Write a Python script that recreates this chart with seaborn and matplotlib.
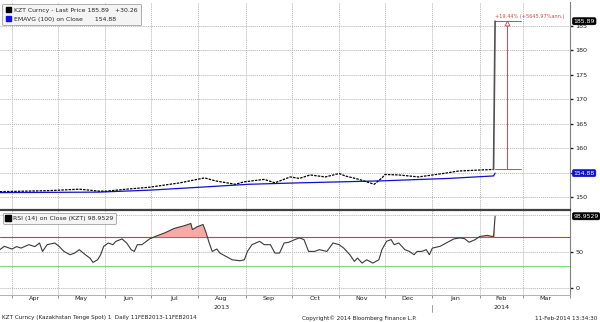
import numpy as np
import pandas as pd
import matplotlib
matplotlib.use("Agg")
import matplotlib.pyplot as plt
from matplotlib.patches import Rectangle
import seaborn as sns

# ---------------- data ----------------
price_dates = ["2013-03-24", "2013-04-10", "2013-04-25", "2013-05-02", "2013-05-15",
               "2013-05-28", "2013-06-02", "2013-06-15", "2013-06-30", "2013-07-20",
               "2013-08-05", "2013-08-12", "2013-08-25", "2013-08-31", "2013-09-13",
               "2013-09-20", "2013-09-30", "2013-10-06", "2013-10-13", "2013-10-23",
               "2013-11-01", "2013-11-05", "2013-11-14", "2013-11-24", "2013-11-29",
               "2013-12-01", "2013-12-10", "2013-12-23", "2014-01-08", "2014-01-18",
               "2014-01-31", "2014-02-10", "2014-02-11"]
price_vals = [151.1, 151.2, 151.3, 151.4, 151.6,
              151.2, 151.2, 151.6, 152.0, 152.9,
              153.9, 153.3, 152.6, 153.1, 153.6,
              152.9, 154.1, 153.8, 154.5, 154.1,
              154.8, 154.3, 153.6, 152.6, 153.9,
              154.6, 154.5, 154.1, 154.8, 155.3,
              155.5, 155.63, 185.89]

ema_dates = ["2013-03-24", "2013-05-28", "2013-06-30", "2013-08-02", "2013-09-03",
             "2013-10-07", "2013-11-29", "2014-01-12", "2014-02-10", "2014-02-11"]
ema_vals = [150.9, 151.0, 151.4, 152.0, 152.6,
            152.9, 153.3, 153.8, 154.3, 154.88]

rsi_dates = ["2013-03-24", "2013-03-27", "2013-04-01", "2013-04-04", "2013-04-07",
             "2013-04-12", "2013-04-16", "2013-04-19", "2013-04-21", "2013-04-24",
             "2013-04-29", "2013-05-02", "2013-05-05", "2013-05-09", "2013-05-12",
             "2013-05-15", "2013-05-19", "2013-05-22", "2013-05-24", "2013-05-27",
             "2013-05-29", "2013-05-31", "2013-06-03", "2013-06-06", "2013-06-08",
             "2013-06-12", "2013-06-15", "2013-06-18", "2013-06-20", "2013-06-22",
             "2013-06-25", "2013-06-30", "2013-07-04", "2013-07-10", "2013-07-16",
             "2013-07-23", "2013-07-27", "2013-07-28", "2013-07-31", "2013-08-04",
             "2013-08-06", "2013-08-08", "2013-08-10", "2013-08-13", "2013-08-15",
             "2013-08-19", "2013-08-23", "2013-08-28", "2013-08-31", "2013-09-02",
             "2013-09-05", "2013-09-10", "2013-09-13", "2013-09-17", "2013-09-20",
             "2013-09-23", "2013-09-26", "2013-09-29", "2013-10-03", "2013-10-06",
             "2013-10-09", "2013-10-12", "2013-10-16", "2013-10-19", "2013-10-24",
             "2013-10-28", "2013-11-01", "2013-11-04", "2013-11-08", "2013-11-11",
             "2013-11-13", "2013-11-16", "2013-11-19", "2013-11-23", "2013-11-27",
             "2013-11-29", "2013-12-02", "2013-12-05", "2013-12-07", "2013-12-10",
             "2013-12-14", "2013-12-17", "2013-12-20", "2013-12-22", "2013-12-25",
             "2013-12-28", "2013-12-30", "2014-01-01", "2014-01-06", "2014-01-10",
             "2014-01-15", "2014-01-19", "2014-01-22", "2014-01-25", "2014-01-29",
             "2014-02-01", "2014-02-06", "2014-02-08", "2014-02-10", "2014-02-11"]
rsi_vals = [52.8, 57.4, 53.7, 57.0, 55.0,
            59.7, 57.0, 62.0, 50.4, 59.7,
            62.0, 57.0, 50.4, 45.8, 48.1,
            52.8, 45.8, 41.2, 35.2, 38.9,
            45.8, 57.4, 62.0, 59.7, 64.3,
            67.6, 62.0, 52.8, 50.4, 59.7,
            59.7, 67.6, 71.3, 76.0, 82.0,
            86.0, 88.9, 80.5, 84.3, 87.5,
            76.0, 62.0, 50.4, 53.7, 48.1,
            43.5, 38.9, 37.5, 38.9, 50.4,
            59.7, 64.3, 59.7, 59.7, 48.1,
            48.1, 62.0, 63.0, 66.7, 69.0,
            66.7, 50.4, 50.4, 52.8, 50.4,
            62.0, 59.7, 55.0, 45.8, 36.6,
            41.2, 34.3, 38.9, 34.3, 38.9,
            52.8, 64.3, 66.7, 59.7, 62.0,
            52.8, 50.4, 45.8, 50.4, 50.4,
            52.8, 45.8, 55.0, 57.4, 62.0,
            67.6, 69.0, 68.0, 63.0, 66.7,
            71.0, 72.5, 71.5, 71.0, 98.9529]

rsi_upper = 70
rsi_lower = 30
price_ticks = [150, 155, 160, 165, 170, 175, 180, 185]
price_tick_labels = ["150", "", "160", "165", "170", "175", "180", "185"]
rsi_ticks = [0, 50]
month_labels = ["Apr", "May", "Jun", "Jul", "Aug", "Sep", "Oct", "Nov", "Dec", "Jan", "Feb", "Mar"]
month_mid = ["2013-04-16", "2013-05-16", "2013-06-16", "2013-07-16", "2013-08-16", "2013-09-16",
             "2013-10-16", "2013-11-16", "2013-12-16", "2014-01-16", "2014-02-15", "2014-03-16"]
month_starts = pd.date_range("2013-04-01", "2014-04-01", freq="MS")

# ---------------- style ----------------
sns.set_theme(style="white")
plt.rcParams["font.family"] = ["DejaVu Sans"]
FS = 4.1

pdates = pd.to_datetime(price_dates)
edates = pd.to_datetime(ema_dates)
rdates = pd.to_datetime(rsi_dates)
pv = np.array(price_vals)
rv = np.array(rsi_vals)

fig = plt.figure(figsize=(6.0, 3.22), dpi=100)
ax1 = fig.add_axes([0.0, 1 - 210 / 322, 570 / 600, 208 / 322])
ax2 = fig.add_axes([0.0, 1 - 295 / 322, 570 / 600, 85 / 322], sharex=ax1)

xmin = pd.Timestamp("2013-03-24 04:00")
xmax = pd.Timestamp("2014-04-01")
grid_kw = dict(color="#b4b4b4", linestyle=(0, (1, 1)), linewidth=0.7, zorder=0)

for ax in (ax1, ax2):
    ax.set_facecolor("white")
    for m in month_starts:
        ax.axvline(m, **grid_kw)
    ax.yaxis.tick_right()
    ax.spines["left"].set_visible(False)
    ax.spines["top"].set_visible(False)
    ax.spines["right"].set_color("#808080")
    ax.spines["right"].set_linewidth(0.8)
    ax.tick_params(axis="y", which="both", right=True, direction="out", length=2.5,
                   width=1.0, colors="#202020", labelsize=FS + 0.5, pad=1.5)

# ---- top panel ----
ax1.set_ylim(147.35, 189.8)
for t in price_ticks:
    ax1.axhline(t, **grid_kw)
ax1.set_yticks(price_ticks)
ax1.set_yticklabels(price_tick_labels)

sns.lineplot(x=pdates[:-1], y=pv[:-1], ax=ax1, color="black", linewidth=0.9,
             linestyle=(0, (2.0, 0.9)), zorder=3)
sns.lineplot(x=pdates[-2:], y=pv[-2:], ax=ax1, color="#505050", linewidth=1.2, zorder=3)
sns.lineplot(x=edates, y=ema_vals, ax=ax1, color="#1010d0", linewidth=0.9, zorder=2)

# change annotation
red = "#d04848"
d0 = pdates[-1]
d_end = pd.Timestamp("2014-02-28")
d_mid = pd.Timestamp("2014-02-19")
ax1.plot([d0, d_end], [pv[-2], pv[-2]], color=red, lw=0.7, zorder=2)
ax1.plot([d0, d_end], [pv[-1], pv[-1]], color=red, lw=0.7, zorder=2)
ax1.plot([d_mid, d_mid], [pv[-2], pv[-1] - 0.6], color=red, lw=0.7, zorder=2)
ax1.plot([d_mid], [pv[-1] - 0.45], marker="^", markersize=3.5, markerfacecolor="white",
         markeredgecolor=red, markeredgewidth=0.6, zorder=4)
pct = (pv[-1] / pv[-2] - 1) * 100
ax1.text(pd.Timestamp("2014-02-11"), pv[-1] + 0.35, "+%.2f%% (+5645.97%%ann.)" % pct,
         color=red, fontsize=FS - 0.45, ha="left", va="bottom", zorder=5)

ax1.spines["bottom"].set_visible(False)
ax1.tick_params(axis="x", which="both", bottom=False, labelbottom=False)

# value tags on right
def tag(ax, y, text, fc):
    ax.annotate(text, xy=(1.0, y), xycoords=("axes fraction", "data"),
                xytext=(2.5, 0), textcoords="offset points", fontsize=FS + 0.3,
                color="white", ha="left", va="center", annotation_clip=False, zorder=10,
                bbox=dict(boxstyle="round,pad=0.2,rounding_size=0.3", fc=fc, ec=fc, lw=0.3))

tag(ax1, pv[-1], "%.2f" % pv[-1], "black")
tag(ax1, ema_vals[-1], "%.2f" % ema_vals[-1], "#1010d0")

# legend top
h1 = [Rectangle((0, 0), 1, 1, fc="black", ec="black"),
      Rectangle((0, 0), 1, 1, fc="#1010e0", ec="#1010e0")]
lab1 = ["KZT Curncy - Last Price %.2f   +%.2f" % (pv[-1], pv[-1] - pv[-2]),
        "EMAVG (100) on Close      %.2f" % ema_vals[-1]]
leg1 = ax1.legend(h1, lab1, loc="upper left", bbox_to_anchor=(0.004, 0.992), fontsize=FS + 0.35,
                  handlelength=0.9, handleheight=0.9, handletextpad=0.4, labelspacing=0.55,
                  borderpad=0.55, frameon=True, fancybox=True, framealpha=1,
                  edgecolor="#909090", facecolor="#f4f4f4", borderaxespad=0)
leg1.get_frame().set_linewidth(0.5)

# ---- bottom panel ----
ax2.set_ylim(-9.7, 107.5)
for t in [0, 50, 100]:
    ax2.axhline(t, **grid_kw)
ax2.axhline(rsi_upper, color="#c84040", lw=0.8, zorder=1)
ax2.axhline(rsi_lower, color="#78dc78", lw=0.8, zorder=1)
ax2.fill_between(rdates, rv, rsi_upper, where=rv > rsi_upper, interpolate=True,
                 color="#f7a9a9", lw=0, zorder=1.5)
ax2.fill_between(rdates, rv, rsi_lower, where=rv < rsi_lower, interpolate=True,
                 color="#a9f7a9", lw=0, zorder=1.5)
sns.lineplot(x=rdates, y=rv, ax=ax2, color="#3a3a3a", linewidth=0.8, zorder=3)
ax2.set_yticks(rsi_ticks)
ax2.set_yticklabels([str(t) for t in rsi_ticks])
tag(ax2, rv[-1], "%.4f" % rv[-1], "black")

ax2.spines["top"].set_visible(True)
ax2.spines["top"].set_color("#404040")
ax2.spines["top"].set_linewidth(1.6)
ax2.spines["bottom"].set_color("#b0b0b0")
ax2.spines["bottom"].set_linewidth(0.7)

h2 = [Rectangle((0, 0), 1, 1, fc="black", ec="black")]
leg2 = ax2.legend(h2, ["RSI (14) on Close (KZT) %.4f" % rv[-1]], loc="upper left",
                  bbox_to_anchor=(0.005, 0.965), fontsize=FS + 0.4, handlelength=0.9,
                  handleheight=0.9, handletextpad=0.4, borderpad=0.4, frameon=True,
                  fancybox=True, framealpha=1, edgecolor="#909090", facecolor="#f4f4f4",
                  borderaxespad=0)
leg2.get_frame().set_linewidth(0.5)

ax2.set_xlim(xmin, xmax)
ax2.set_xticks(month_starts)
ax2.set_xticklabels([])
ax2.set_xticks(pd.to_datetime(month_mid), minor=True)
ax2.set_xticklabels(month_labels, minor=True)
ax2.tick_params(axis="x", which="major", bottom=True, direction="out", length=2.5,
                width=0.6, colors="#808080")
ax2.tick_params(axis="x", which="minor", bottom=False, length=0, labelsize=FS + 0.5, pad=1.0,
                labelcolor="#202020")
ax2.set_xlabel("")
ax2.set_ylabel("")
ax1.set_xlabel("")
ax1.set_ylabel("")

# year labels
for yr_date, yr in [("2013-08-16", "2013"), ("2014-02-15", "2014")]:
    ax2.annotate(yr, xy=(pd.Timestamp(yr_date), 0), xycoords=("data", "axes fraction"),
                 xytext=(0, -7.5), textcoords="offset points", fontsize=FS + 0.5,
                 ha="center", va="top", color="#202020", annotation_clip=False)
# year boundary marker
ax2.plot([pd.Timestamp("2014-01-01")] * 2, [-0.12, -0.2], transform=ax2.get_xaxis_transform(),
         color="#909090", lw=0.6, clip_on=False)

# footer
fig.text(2 / 600, 1 - 318 / 322, "KZT Curncy (Kazakhstan Tenge Spot) 1  Daily 11FEB2013-11FEB2014",
         fontsize=FS, ha="left", va="center", color="#202020")
fig.text(302 / 600, 1 - 318 / 322, "Copyright\u00a9 2014 Bloomberg Finance L.P.",
         fontsize=FS, ha="left", va="center", color="#202020")
fig.text(597 / 600, 1 - 318 / 322, "11-Feb-2014 13:34:30",
         fontsize=FS, ha="right", va="center", color="#202020")

fig.savefig("out.png", dpi=100, facecolor="white")
